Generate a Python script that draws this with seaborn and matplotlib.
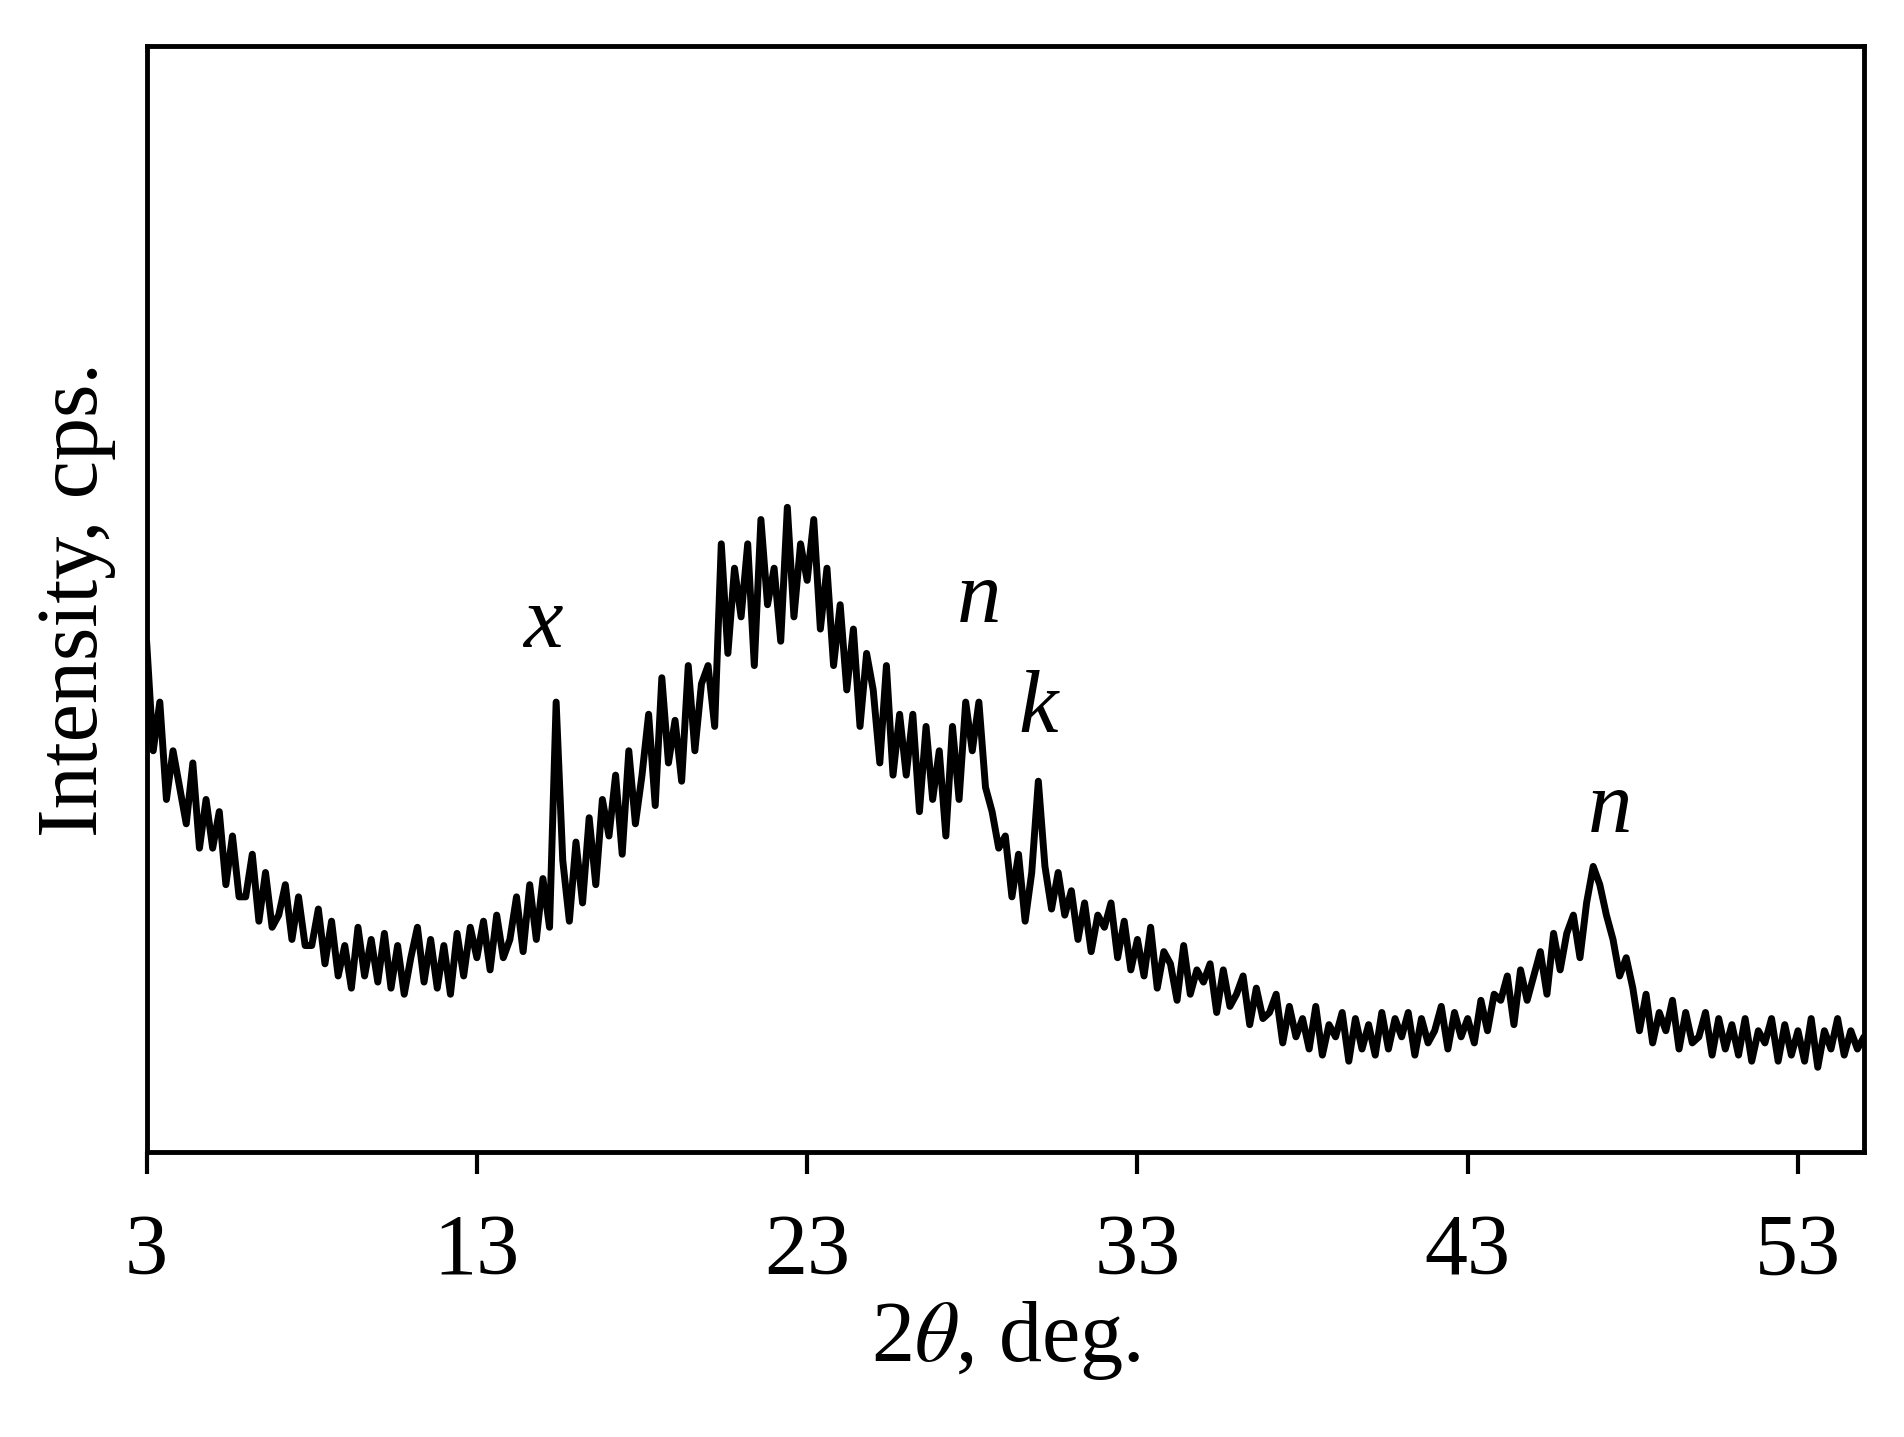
import numpy as np
import pandas as pd
import matplotlib
matplotlib.use("Agg")
import matplotlib.pyplot as plt
import seaborn as sns

two_theta_start, two_theta_step = 3.0, 0.2
intensity = [
420, 330, 370, 290, 330, 300, 270, 320, 250, 290,
250, 280, 220, 260, 210, 210, 245, 190, 230, 185,
195, 220, 175, 210, 170, 170, 200, 155, 190, 145,
170, 135, 185, 145, 175, 140, 180, 135, 170, 130,
160, 185, 140, 175, 135, 170, 130, 180, 145, 185,
160, 190, 150, 195, 160, 175, 210, 165, 220, 175,
225, 185, 370, 240, 190, 255, 205, 275, 220, 290,
260, 310, 245, 330, 270, 310, 360, 285, 390, 320,
355, 305, 400, 330, 385, 400, 350, 500, 410, 480,
440, 500, 400, 520, 450, 480, 420, 530, 440, 500,
470, 520, 430, 480, 400, 450, 380, 430, 350, 410,
380, 320, 400, 310, 360, 310, 360, 280, 350, 290,
330, 260, 350, 290, 370, 330, 370, 300, 280, 250,
260, 210, 245, 190, 230, 305, 235, 200, 230, 195,
215, 175, 205, 165, 195, 185, 205, 160, 190, 150,
175, 145, 185, 135, 165, 155, 125, 170, 130, 150,
140, 155, 115, 150, 120, 130, 145, 105, 135, 110,
115, 130, 90, 120, 95, 110, 85, 120, 80, 105,
95, 115, 75, 110, 85, 105, 80, 115, 85, 110,
95, 115, 80, 110, 90, 100, 120, 85, 115, 95,
110, 90, 125, 100, 130, 125, 145, 105, 150, 125,
145, 165, 130, 180, 150, 180, 195, 160, 205, 235,
220, 195, 175, 145, 160, 135, 100, 130, 90, 115,
100, 125, 85, 115, 90, 95, 115, 80, 110, 85,
105, 80, 110, 75, 100, 90, 110, 75, 105, 80,
100, 75, 110, 70, 100, 85, 110, 80, 100, 85,
95,
]
two_theta = np.round(two_theta_start + two_theta_step * np.arange(len(intensity)), 1)
xticks = [3, 13, 23, 33, 43, 53]
labels = [("x", 15.0, 400), ("n", 28.2, 420), ("k", 30.0, 330), ("n", 47.3, 248)]

sns.set_theme(style="ticks")
plt.rcParams['font.family'] = ['Liberation Serif', 'DejaVu Serif']
plt.rcParams['mathtext.fontset'] = 'stix'
plt.rcParams['text.color'] = 'black'
plt.rcParams['axes.labelcolor'] = 'black'
plt.rcParams['xtick.color'] = 'black'

fig = plt.figure(figsize=(19.04, 14.37), dpi=100)
ax = fig.add_axes([0.077, 0.198, 0.902, 0.77])
df = pd.DataFrame({"x": two_theta, "y": intensity})
sns.lineplot(data=df, x="x", y="y", ax=ax, color="black", linewidth=5)
ax.set_xlim(3, 55)
ax.set_ylim(0, 909)
ax.set_xticks(xticks)
ax.set_xticklabels([str(t) for t in xticks])
ax.set_yticks([])
ax.tick_params(axis='x', labelsize=62, length=16, width=3, direction='out', pad=28)
for s in ax.spines.values():
    s.set_linewidth(3.5)
    s.set_color('black')
ax.set_xlabel(r"2$\theta$, deg.", fontsize=62, labelpad=4)
ax.set_ylabel("Intensity, cps.", fontsize=62, labelpad=22)
for t, xv, yv in labels:
    ax.text(xv, yv, t, fontsize=64, style='italic', ha='center', va='bottom', color='black')
fig.savefig("out.png", dpi=100, facecolor='white')
